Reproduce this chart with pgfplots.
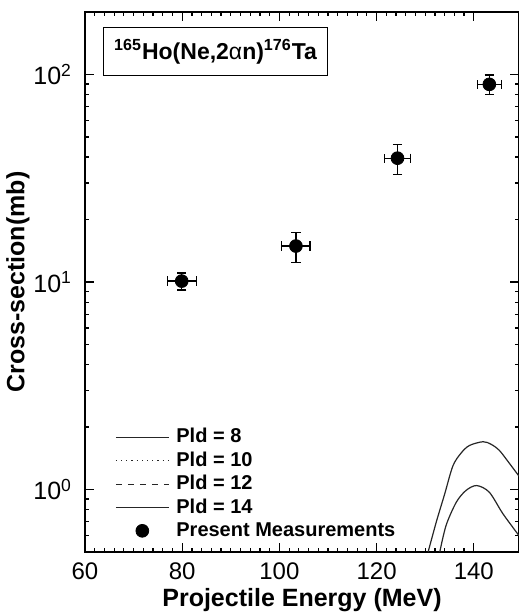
\documentclass[border=0pt]{standalone}
\usepackage{fontspec}
\setmainfont{Liberation Sans}
\usepackage{pgfplots}
\usepackage{pgfplotstable}
\pgfplotsset{compat=1.18}

% measured cross sections (mb) with errors
\pgfplotstableread{
x     ex   y     ey
79.9  3.0  10.1  0.95
103.4 2.9  14.9  2.45
124.3 2.6  39.5  6.5
143.2 2.5  89.6  9.8
}\meas

% calculated excitation functions
\pgfplotstableread{
x     y
133.0 0.50
134.3 0.672
136.4 0.869
138.4 0.99
140.6 1.045
143.2 0.97
146.0 0.764
149.3 0.60
}\pldeight

\pgfplotstableread{
x     y
130.6 0.50
132.3 0.70
134.0 0.95
135.7 1.30
137.4 1.50
139.1 1.63
141.9 1.70
143.6 1.65
145.3 1.54
147.4 1.33
149.3 1.16
}\pldfourteen

\begin{document}
\begin{tikzpicture}
\begin{axis}[
    scale only axis,
    width=217pt, height=270pt,
    xmin=60, xmax=149.3,
    ymode=log, ymin=0.5, ymax=200,
    xtick={60,80,...,140},
    minor x tick num=9,
    ytick={1,10,100},
    yticklabels={10\textsuperscript{0},10\textsuperscript{1},10\textsuperscript{2}},
    minor ytick={0.6,0.7,0.8,0.9,2,3,4,5,6,7,8,9,20,30,40,50,60,70,80,90,200},
    tick align=inside,
    major tick length=4.5pt, minor tick length=2.2pt,
    every tick/.style={black, line width=0.6pt},
    axis line style={line width=0.9pt},
    /pgf/number format/assume math mode=true,
    xticklabel style={yshift=-2pt, font=\fontsize{12}{14}\selectfont},
    yticklabel style={xshift=-3pt, font=\fontsize{12.5}{14}\selectfont},
    xlabel={Projectile Energy (MeV)},
    ylabel={Cross-section(mb)},
    label style={font=\bfseries\fontsize{12.5}{14}\selectfont},
    xlabel style={yshift=2.5pt},
    ylabel style={yshift=-5pt},
    legend cell align=left,
    legend style={at={(rel axis cs:0.055,0.01)}, anchor=south west,
        draw=none, fill=none, row sep=0pt,
        font=\bfseries\fontsize{10}{12}\selectfont,
        nodes={inner sep=1.5pt},
        /tikz/every odd column/.append style={column sep=2pt}},
    legend image code/.code={\draw[mark repeat=2,mark phase=2,#1]
        plot coordinates {(0cm,0cm) (0.465cm,0cm) (0.93cm,0cm)};},
]
\addplot[black!85, line width=0.6pt, smooth] table[x=x,y=y] {\pldeight};
\addlegendentry{Pld = 8}
\addlegendimage{black!85, line width=0.6pt, dotted}
\addlegendentry{Pld = 10}
\addlegendimage{black!85, line width=0.6pt, dashed}
\addlegendentry{Pld = 12}
\addplot[black!85, line width=0.6pt, smooth] table[x=x,y=y] {\pldfourteen};
\addlegendentry{Pld = 14}
\addplot[only marks, mark=*, mark size=3.2pt, black,
    error bars/.cd, x dir=both, x explicit, y dir=both, y explicit,
    error mark options={mark size=2.3pt, line width=0.6pt, rotate=90},
    error bar style={line width=0.6pt}]
    table[x=x, y=y, x error=ex, y error=ey] {\meas};
\addlegendentry{Present Measurements}

\node[draw, line width=0.6pt, anchor=north west, minimum width=112pt,
      minimum height=24pt, inner sep=1pt,
      font=\bfseries\fontsize{11.5}{13}\selectfont]
      at (rel axis cs:0.0415,0.972)
      {\textsuperscript{165}Ho(Ne,2{\mdseries α}n)\textsuperscript{176}Ta};
\end{axis}
\pgfresetboundingbox
\path[use as bounding box] ([xshift=-42.5pt,yshift=-32pt]current axis.south west)
    rectangle ([yshift=6pt]current axis.north east);
\end{tikzpicture}
\end{document}
